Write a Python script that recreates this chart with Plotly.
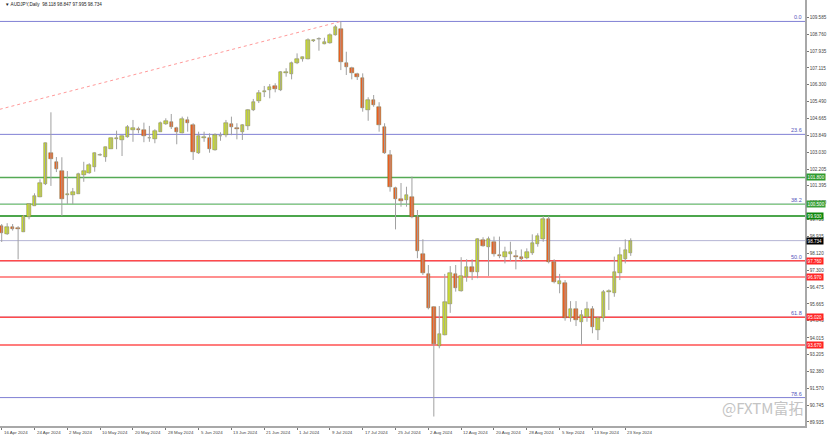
import plotly.graph_objects as go
import pandas as pd

# ---------------- data ----------------
dates = pd.bdate_range("2024-04-16", "2024-09-24")

opens = [99.44, 99.04, 99.38, 99.36, 99.17, 99.87, 100.43, 100.87, 101.47, 103.00,
         102.56, 102.10, 100.96, 100.93, 101.01, 101.93, 102.03, 102.29, 102.87, 102.81,
         103.20, 103.68, 103.60, 103.75, 104.10, 104.17, 104.10, 103.73, 103.65, 104.02,
         104.38, 104.48, 104.18, 103.97, 104.59, 104.35, 102.97, 103.70, 103.73, 103.13,
         103.80, 103.85, 104.38, 104.18, 103.99, 104.30, 105.07, 105.51, 105.95, 106.04,
         106.24, 106.03, 106.88, 106.82, 107.34, 107.55, 107.56, 108.42, 108.52, 108.29,
         108.32, 108.71, 109.00, 107.37, 107.10, 106.80, 106.61, 105.07, 105.56, 105.23,
         104.26, 102.90, 101.27, 100.74, 100.71, 100.84, 99.87, 98.07, 97.10, 95.50,
         93.64, 94.17, 95.65, 97.12, 96.31, 96.98, 97.47, 97.20, 98.77, 98.44,
         98.68, 98.02, 97.96, 98.09, 97.99, 97.93, 97.88, 98.12, 98.57, 98.80,
         99.77, 97.68, 96.63, 96.69, 94.97, 95.40, 94.80, 95.04, 95.40, 94.40,
         94.97, 96.24, 96.21, 97.18, 97.84, 98.118]
highs = [99.54, 99.58, 99.54, 99.44, 99.98, 100.55, 101.03, 101.71, 103.49, 104.96,
         102.79, 102.78, 102.11, 101.29, 102.03, 102.56, 102.49, 103.02, 102.97, 103.29,
         103.73, 104.07, 103.85, 104.34, 104.59, 104.26, 104.46, 104.30, 104.14, 104.51,
         104.67, 104.88, 104.26, 104.75, 104.75, 104.43, 104.02, 104.02, 103.94, 103.94,
         103.99, 104.59, 104.75, 104.43, 104.39, 105.12, 105.61, 106.04, 106.24, 106.33,
         106.37, 106.96, 107.10, 107.42, 107.82, 107.66, 108.55, 108.50, 108.60, 108.58,
         108.79, 109.20, 109.37, 107.90, 107.17, 106.88, 106.85, 105.69, 105.80, 105.45,
         104.43, 103.13, 101.35, 101.53, 101.35, 101.84, 100.22, 98.80, 97.55, 95.56,
         95.56, 97.12, 97.50, 97.55, 97.93, 97.83, 97.83, 98.85, 98.90, 98.93,
         98.93, 98.93, 98.44, 98.68, 98.28, 98.31, 98.36, 99.04, 99.09, 99.93,
         99.93, 97.83, 97.12, 96.82, 95.80, 95.80, 95.37, 95.77, 95.56, 95.04,
         96.34, 96.37, 97.96, 98.41, 98.80, 98.847]
lows = [98.67, 99.01, 99.22, 97.83, 99.15, 99.77, 100.42, 100.84, 101.43, 101.39,
        102.06, 99.93, 100.51, 100.51, 101.00, 101.59, 101.98, 102.08, 102.84, 102.56,
        103.18, 103.17, 102.84, 103.73, 103.53, 103.94, 103.51, 103.53, 103.46, 104.01,
        104.35, 104.15, 103.41, 103.94, 104.02, 102.65, 102.94, 103.53, 103.00, 103.10,
        103.58, 103.75, 103.85, 103.65, 103.62, 104.10, 105.02, 105.41, 105.70, 105.64,
        105.93, 105.99, 106.69, 106.56, 107.30, 107.42, 107.53, 108.37, 107.95, 108.26,
        108.29, 108.68, 107.01, 106.77, 106.56, 106.53, 104.99, 104.55, 105.23, 104.02,
        102.94, 101.11, 99.28, 100.38, 100.38, 99.82, 97.88, 97.07, 95.40, 90.20,
        93.51, 94.14, 95.23, 96.26, 96.26, 96.74, 96.82, 96.91, 98.44, 97.02,
        97.96, 97.88, 97.63, 97.75, 97.34, 97.71, 97.83, 98.04, 98.44, 98.68,
        97.63, 96.66, 96.18, 94.85, 94.80, 94.59, 93.67, 94.80, 94.24, 93.91,
        94.80, 95.37, 96.01, 96.82, 97.63, 97.995]
closes = [99.10, 99.38, 99.31, 99.28, 99.93, 100.50, 100.91, 101.52, 103.46, 102.68,
          102.20, 100.77, 100.98, 101.08, 101.97, 102.11, 102.40, 102.97, 102.90, 103.26,
          103.70, 103.70, 103.81, 104.26, 104.21, 104.12, 103.83, 103.70, 104.04, 104.44,
          104.54, 104.26, 104.02, 104.64, 104.43, 103.02, 103.81, 103.78, 103.18, 103.85,
          103.83, 104.44, 104.23, 104.13, 104.33, 105.07, 105.48, 105.90, 106.00, 106.20,
          106.11, 106.93, 106.90, 107.34, 107.53, 107.63, 108.47, 108.47, 108.50, 108.36,
          108.73, 109.11, 107.42, 107.14, 106.88, 106.66, 105.18, 105.56, 105.30, 104.34,
          102.97, 101.35, 100.74, 100.64, 100.95, 99.87, 98.23, 97.15, 95.48, 93.70,
          94.20, 95.77, 97.18, 96.42, 97.02, 97.44, 97.23, 98.80, 98.49, 98.80,
          98.09, 98.00, 98.17, 98.20, 97.93, 97.86, 98.17, 98.61, 98.96, 99.78,
          97.68, 96.71, 96.78, 94.97, 95.40, 94.88, 95.13, 95.40, 94.53, 94.99,
          96.26, 96.31, 97.23, 98.04, 98.28, 98.734]

date_labels = ["16 Apr 2024", "24 Apr 2024", "2 May 2024", "10 May 2024", "20 May 2024",
               "28 May 2024", "5 Jun 2024", "13 Jun 2024", "21 Jun 2024", "1 Jul 2024",
               "9 Jul 2024", "17 Jul 2024", "25 Jul 2024", "2 Aug 2024", "12 Aug 2024",
               "20 Aug 2024", "28 Aug 2024", "5 Sep 2024", "13 Sep 2024", "23 Sep 2024"]

price_ticks = [109.585, 108.760, 107.935, 107.115, 106.300, 105.490, 104.665, 103.849,
               103.030, 102.205, 101.395, 100.570, 99.755, 98.935, 98.120, 97.300,
               96.475, 95.665, 94.845, 94.015, 93.205, 92.380, 91.570, 90.745, 89.935]

fib_high, fib_low = 109.37, 86.15
fib_high_idx, fib_low_idx = 62, -277.6
fib_levels = [0.0, 23.6, 38.2, 50.0, 61.8, 78.6]

green_levels = [101.80, 100.50, 99.93]
red_levels = [97.76, 96.97, 95.02, 93.67]
last_price = 98.734
header = "\u25bc AUDJPY,Daily  98.118 98.847 97.995 98.734"
watermark = "@FXTM富拓"

# ---------------- styles ----------------
FONT = "Liberation Sans"
BULL = "#d2e62a"
BEAR = "#fa5c18"
OUTLINE = "#707044"
WICK = "#a0a0a0"
FIBC = "#8080d4"
green_cols = ["#55aa55", "#8ccc8c", "#118811"]
green_box = ["#2f9a2f", "#3aa03a", "#0d870d"]
red_cols = ["#ff4a4a", "#ff6a6a", "#ff4a4a", "#ff5050"]
red_box = "#ff2424"

n = len(opens)
idx = list(range(n))
date_strs = [f"{d.day} {d.strftime('%b %Y')}" for d in dates]
label_idx = [date_strs.index(s) for s in date_labels]

fig = go.Figure()

# fib trend line (dotted red)
fig.add_trace(go.Scatter(x=[fib_low_idx, fib_high_idx], y=[fib_low, fib_high], mode="lines",
                         line=dict(color="#ff9a9a", width=1, dash="dot"),
                         hoverinfo="skip", showlegend=False))

# wicks
wx, wy = [], []
for i in idx:
    wx += [i, i, None]
    wy += [lows[i], highs[i], None]
fig.add_trace(go.Scatter(x=wx, y=wy, mode="lines", line=dict(color=WICK, width=1),
                         hoverinfo="skip", showlegend=False))

# bodies
MINH = 0.03
for bull in (True, False):
    xs, base, hgt = [], [], []
    for i in idx:
        if (closes[i] >= opens[i]) == bull:
            lo = min(opens[i], closes[i])
            h = abs(closes[i] - opens[i])
            if h < MINH:
                lo -= (MINH - h) / 2
                h = MINH
            xs.append(i); base.append(lo); hgt.append(h)
    fig.add_trace(go.Bar(x=xs, y=hgt, base=base, width=0.64,
                         marker=dict(color=BULL if bull else BEAR,
                                     line=dict(color=OUTLINE, width=0.5)),
                         hoverinfo="skip", showlegend=False))

shapes = []
annotations = []
fib_prices = [fib_high - lv / 100 * (fib_high - fib_low) for lv in fib_levels]
for lv, p in zip(fib_levels, fib_prices):
    shapes.append(dict(type="line", xref="paper", x0=0, x1=1, yref="y", y0=p, y1=p,
                       line=dict(color=FIBC, width=1), layer="below"))
    annotations.append(dict(xref="paper", x=1, xanchor="right", xshift=-1, yref="y", y=p,
                            yanchor="bottom", yshift=-1, text=f"{lv:.1f}", showarrow=False,
                            font=dict(family=FONT, size=5.5, color="#5555bb")))
# current price line
shapes.append(dict(type="line", xref="paper", x0=0, x1=1, yref="y", y0=last_price, y1=last_price,
                   line=dict(color="#b4b4d4", width=1), layer="below"))
for p, c in zip(green_levels, green_cols):
    shapes.append(dict(type="line", xref="paper", x0=0, x1=1, yref="y", y0=p, y1=p,
                       line=dict(color=c, width=1.4), layer="below"))
for p, c in zip(red_levels, red_cols):
    shapes.append(dict(type="line", xref="paper", x0=0, x1=1, yref="y", y0=p, y1=p,
                       line=dict(color=c, width=1.4), layer="below"))

def box(p, bg):
    return dict(xref="paper", x=1, xanchor="left", xshift=1, yref="y", y=p, yanchor="middle",
                text=f"{p:.3f}", showarrow=False, bgcolor=bg, borderpad=0.6,
                font=dict(family=FONT, size=4.6, color="white"))

for p, c in zip(green_levels, green_box):
    annotations.append(box(p, c))
for p in red_levels:
    annotations.append(box(p, red_box))
annotations.append(box(last_price, "#000000"))

# date labels
for i, s in zip(label_idx, date_labels):
    annotations.append(dict(xref="x", x=i, xanchor="left", xshift=0, yref="paper", y=0,
                            yanchor="top", yshift=-1.5, text=s, showarrow=False,
                            font=dict(family=FONT, size=4.4, color="#444444")))

# header
annotations.append(dict(xref="paper", x=0.004, xanchor="left", yref="paper", y=0.999,
                        yanchor="top", text=header, showarrow=False,
                        font=dict(family=FONT, size=4.6, color="#222222")))
# watermark
annotations.append(dict(xref="paper", x=0.895, xanchor="left", yref="paper", y=0.043,
                        yanchor="middle", text=watermark, showarrow=False,
                        font=dict(family="Noto Sans CJK SC", size=15, color="#c4c4c4")))

fig.update_layout(
    width=828, height=436,
    margin=dict(l=0, r=23, t=0, b=10, autoexpand=False),
    paper_bgcolor="white", plot_bgcolor="white",
    barmode="overlay", bargap=0,
    showlegend=False,
    shapes=shapes, annotations=annotations,
    xaxis=dict(range=[-0.311, 146.86], showgrid=False, zeroline=False, automargin=False,
               showline=True, linecolor="#a8a8a8", linewidth=1.5,
               tickmode="array", tickvals=label_idx, showticklabels=False,
               ticks="outside", ticklen=2, tickcolor="#777777", fixedrange=True),
    yaxis=dict(range=[89.74, 110.41], side="right", showgrid=False, zeroline=False,
               automargin=False,
               showline=True, linecolor="#a8a8a8", linewidth=1.5,
               tickmode="array", tickvals=price_ticks,
               ticktext=[f"{v:.3f}" for v in price_ticks],
               ticks="outside", ticklen=2, tickcolor="#777777",
               tickfont=dict(family=FONT, size=4.6, color="#444444"), fixedrange=True),
)

fig.write_html("out.html", config={"displayModeBar": False},
               post_script="document.body.style.margin='0';document.body.style.overflow='hidden';")
